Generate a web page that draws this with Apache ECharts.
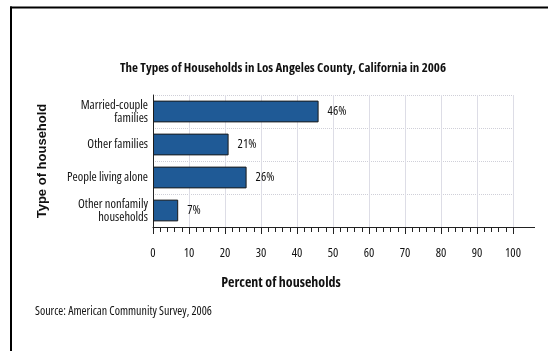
<!DOCTYPE html>
<html>
<head>
<meta charset="utf-8">
<script src="https://cdn.jsdelivr.net/npm/echarts@6/dist/echarts.min.js"></script>
<style>
html,body{margin:0;padding:0;background:#fff;}
#c{width:548px;height:351px;}
</style>
</head>
<body>
<div id="c"></div>
<script>
const categories = ["Married-couple\nfamilies", "Other families", "People living alone", "Other nonfamily\nhouseholds"];
const percents = [46, 21, 26, 7];
const xTicks = [0, 10, 20, 30, 40, 50, 60, 70, 80, 90, 100];

const NARROW = '"Open Sans", "DejaVu Sans Condensed", sans-serif';
const COND = 'condensed';
const COND_BOLD = 'condensed bold';
const chart = echarts.init(document.getElementById('c'), null, {renderer: 'canvas'});
const option = {
  animation: false,
  backgroundColor: '#fff',
  title: {
    text: 'The Types of Households in Los Angeles County, California in 2006',
    left: 278, top: 57, textAlign: 'center',
    textStyle: {fontFamily: NARROW, fontSize: 13, fontWeight: COND_BOLD, color: '#111'}
  },
  grid: {left: 153, right: 35, top: 95, bottom: 124, containLabel: false},
  xAxis: {
    type: 'value', min: xTicks[0], max: xTicks[xTicks.length - 1], interval: xTicks[1] - xTicks[0],
    name: 'Percent of households', nameLocation: 'middle', nameGap: 49,
    nameTextStyle: {fontFamily: NARROW, fontSize: 14, fontWeight: COND_BOLD, color: '#111', padding: [0, 104, 0, 0]},
    axisLine: {show: true, lineStyle: {color: '#222', width: 1}},
    axisTick: {show: true, length: 7, lineStyle: {color: '#222'}},
    minorTick: {show: true, splitNumber: 5, length: 5, lineStyle: {color: '#222'}},
    axisLabel: {margin: 20, fontFamily: NARROW, fontSize: 12.5, fontWeight: COND, color: '#111',
      formatter: v => xTicks.includes(v) ? String(v) : ''},
    splitLine: {show: true, lineStyle: {color: '#dddde6', width: 1}}
  },
  yAxis: {
    type: 'category', data: categories, inverse: true,
    name: 'Type of household', nameLocation: 'middle', nameGap: 104, nameRotate: 90,
    nameTextStyle: {fontFamily: '"Liberation Sans", Arial, sans-serif', fontSize: 13, fontWeight: 'bold', color: '#111'},
    axisLine: {show: true, lineStyle: {color: '#222', width: 1}},
    axisTick: {show: false},
    axisLabel: {margin: 5, fontFamily: NARROW, fontSize: 12.5, fontWeight: COND, color: '#111', lineHeight: 13, align: 'right'},
    splitLine: {show: true, lineStyle: {color: '#cfcfd8', type: [1, 1], width: 1}}
  },
  series: [{
    type: 'bar', data: percents, barWidth: '66%',
    itemStyle: {color: '#1f5a96', borderColor: '#1a1a1a', borderWidth: 1},
    label: {show: true, position: 'right', distance: 9, formatter: '{c}%',
      fontFamily: NARROW, fontSize: 12.5, fontWeight: COND, color: '#111'}
  }]
};
chart.setOption(option);

const p0 = chart.convertToPixel({xAxisIndex: 0}, xTicks[xTicks.length - 1]);
const rect = chart.getModel().getComponent('grid').coordinateSystem.getRect();
chart.setOption({
  graphic: [
    {type: 'line', shape: {x1: p0, y1: rect.y + rect.height + 0.5, x2: p0 + 22, y2: rect.y + rect.height + 0.5}, style: {stroke: '#222', lineWidth: 1}},
    {type: 'line', shape: {x1: 10, y1: 7.5, x2: 548, y2: 7.5}, style: {stroke: '#000', lineWidth: 2}},
    {type: 'line', shape: {x1: 11, y1: 6.5, x2: 11, y2: 351}, style: {stroke: '#000', lineWidth: 2}},
    {type: 'text', left: 35, top: 306, style: {text: 'Source: American Community Survey, 2006', fontFamily: NARROW, fontSize: 12, fontWeight: COND, fill: '#111'}}
  ]
});
</script>
</body>
</html>
